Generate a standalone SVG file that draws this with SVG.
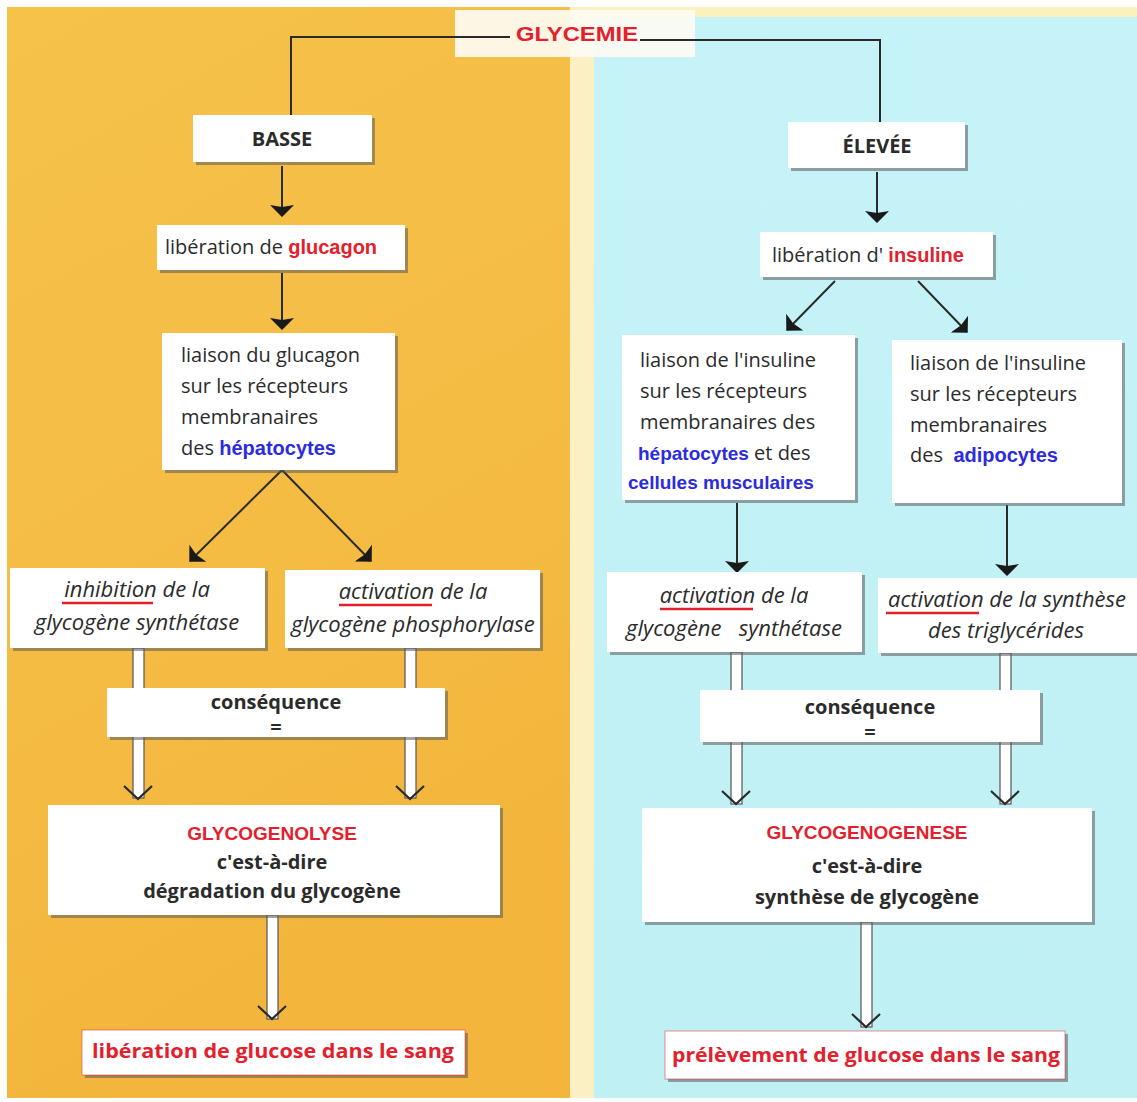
<svg xmlns="http://www.w3.org/2000/svg" width="1137" height="1102" viewBox="0 0 1137 1102">
<defs>
<linearGradient id="orange" x1="0" y1="0" x2="0.3" y2="1">
<stop offset="0" stop-color="#f6c24a"/>
<stop offset="0.5" stop-color="#f5bd45"/>
<stop offset="1" stop-color="#f3b53c"/>
</linearGradient>
<linearGradient id="cyan" x1="0" y1="0" x2="0" y2="1">
<stop offset="0" stop-color="#c6f3f7"/>
<stop offset="1" stop-color="#bff0f4"/>
</linearGradient>
<marker id="ah2" viewBox="0 0 12 24" refX="11" refY="12" markerWidth="12" markerHeight="24" markerUnits="userSpaceOnUse" orient="auto">
<path d="M0,0 L12,12 L0,24 L2,12 Z" fill="#1a1a1a"/>
</marker>
</defs>
<style>
.box{fill:#ffffff}
.sh{fill:#5a5a5a;opacity:0.55}
.t{font-family:"Open Sans","Noto Sans",sans-serif;font-size:20px;fill:#2b2b2b}
.c{text-anchor:middle}
.b{font-weight:bold}
.i{font-style:italic;font-size:22px}
.red{font-family:"Liberation Sans",Arial,sans-serif;font-weight:bold;fill:#e4202c}
.blue{font-family:"Liberation Sans",Arial,sans-serif;font-weight:bold;fill:#2b2be0}
.ln{stroke:#2a2a2a;stroke-width:2;fill:none}
.ul{stroke:#e4202c;stroke-width:2.5;fill:none}
.hs{fill:#ffffff;stroke:#555;stroke-width:1.2}
.hh{stroke:#2a2a2a;stroke-width:2.2;fill:none}
</style>
<rect x="0" y="0" width="1137" height="1102" fill="#ffffff"/>
<rect x="7" y="7" width="565" height="1091" fill="url(#orange)"/>
<rect x="570" y="7" width="567" height="10" fill="#fbf0c0"/>
<rect x="570" y="7" width="24" height="1091" fill="#fbf0c4"/>
<rect x="594" y="17" width="543" height="1081" fill="url(#cyan)"/>

<g id="connectors">
<polyline class="ln" points="510,37 291,37 291,115"/>
<polyline class="ln" points="640,40 880,40 880,122"/>
<line class="ln" x1="282" y1="166" x2="282" y2="216" marker-end="url(#ah2)"/>
<line class="ln" x1="282" y1="273" x2="282" y2="329" marker-end="url(#ah2)"/>
<line class="ln" x1="282" y1="470" x2="190" y2="561" marker-end="url(#ah2)"/>
<line class="ln" x1="282" y1="470" x2="371" y2="561" marker-end="url(#ah2)"/>
<line class="ln" x1="877" y1="172" x2="877" y2="222" marker-end="url(#ah2)"/>
<line class="ln" x1="835" y1="281" x2="787" y2="330" marker-end="url(#ah2)"/>
<line class="ln" x1="918" y1="281" x2="967" y2="332" marker-end="url(#ah2)"/>
<line class="ln" x1="737" y1="503" x2="737" y2="572" marker-end="url(#ah2)"/>
<line class="ln" x1="1007" y1="505" x2="1007" y2="575" marker-end="url(#ah2)"/>
<rect class="hs" x="133" y="648" width="11" height="150"/>
<polyline class="hh" points="124,786 138,799 152,786"/>
<rect class="hs" x="405" y="648" width="11" height="150"/>
<polyline class="hh" points="396,786 410,799 424,786"/>
<rect class="hs" x="731" y="652" width="11" height="152"/>
<polyline class="hh" points="722,791 736,804 750,791"/>
<rect class="hs" x="1000" y="653" width="11" height="151"/>
<polyline class="hh" points="991,791 1005,804 1019,791"/>
<rect class="hs" x="267" y="915" width="11" height="104"/>
<polyline class="hh" points="258,1006 272,1019 286,1006"/>
<rect class="hs" x="861" y="922" width="11" height="105"/>
<polyline class="hh" points="852,1014 866,1027 880,1014"/>
</g>

<g id="glycemie">
<rect x="455" y="10" width="240" height="47" fill="#fdfbf2" opacity="0.92"/>
<polyline class="ln" points="455,37 510,37"/>
<polyline class="ln" points="640,40 695,40"/>
<text class="red c" x="577" y="41" font-size="21" textLength="122" lengthAdjust="spacingAndGlyphs">GLYCEMIE</text>
</g>

<g id="basse">
<rect class="sh" x="196" y="118" width="179" height="47"/>
<rect class="box" x="193" y="115" width="179" height="47"/>
<text class="t b c" x="282" y="146" font-size="21">BASSE</text>
</g>

<g id="lib-glucagon">
<rect class="sh" x="160" y="228" width="248" height="45"/>
<rect class="box" x="157" y="225" width="248" height="45"/>
<text class="t" x="165" y="254">libération de <tspan class="red" font-size="20">glucagon</tspan></text>
</g>

<g id="liaison-glucagon">
<rect class="sh" x="165" y="336" width="233" height="137"/>
<rect class="box" x="162" y="333" width="233" height="137"/>
<text class="t" x="181" y="362">liaison du glucagon</text>
<text class="t" x="181" y="393">sur les récepteurs</text>
<text class="t" x="181" y="424">membranaires</text>
<text class="t" x="181" y="455">des <tspan class="blue" font-size="20">hépatocytes</tspan></text>
</g>

<g id="inhibition">
<rect class="sh" x="13" y="571" width="255" height="80"/>
<rect class="box" x="10" y="568" width="255" height="80"/>
<text class="t i c" x="137" y="597">inhibition de la</text>
<line class="ul" x1="62" y1="603" x2="153" y2="603"/>
<text class="t i c" x="137" y="630">glycogène synthétase</text>
</g>

<g id="activation-phos">
<rect class="sh" x="288" y="573" width="255" height="78"/>
<rect class="box" x="285" y="570" width="255" height="78"/>
<text class="t i c" x="413" y="599">activation de la</text>
<line class="ul" x1="339" y1="605" x2="432" y2="605"/>
<text class="t i c" x="413" y="632">glycogène phosphorylase</text>
</g>

<g id="consequence-left">
<rect class="sh" x="110" y="691" width="338" height="49"/>
<rect class="box" x="107" y="688" width="338" height="49"/>
<text class="t b c" x="276" y="709" font-size="19">conséquence</text>
<text class="t b c" x="276" y="734" font-size="13">=</text>
</g>

<g id="glycogenolyse">
<rect class="sh" x="51" y="808" width="452" height="110"/>
<rect class="box" x="48" y="805" width="452" height="110"/>
<text class="red c" x="272" y="840" font-size="19">GLYCOGENOLYSE</text>
<text class="t b c" x="272" y="869" font-size="21">c'est-à-dire</text>
<text class="t b c" x="272" y="898">dégradation du glycogène</text>
</g>

<g id="liberation-glucose">
<rect class="sh" x="85" y="1033" width="383" height="45"/>
<rect class="box" x="82" y="1030" width="383" height="45"/>
<rect x="82" y="1030" width="383" height="45" fill="none" stroke="#e4202c" stroke-width="1" opacity="0.5"/>
<text class="t b c" x="273" y="1058" font-size="21" style="fill:#e4202c" textLength="362" lengthAdjust="spacingAndGlyphs">libération de glucose dans le sang</text>
</g>

<g id="elevee">
<rect class="sh" x="791" y="125" width="177" height="46"/>
<rect class="box" x="788" y="122" width="177" height="46"/>
<text class="t b c" x="877" y="153" font-size="21">ÉLEVÉE</text>
</g>

<g id="lib-insuline">
<rect class="sh" x="763" y="235" width="233" height="45"/>
<rect class="box" x="760" y="232" width="233" height="45"/>
<text class="t" x="772" y="262">libération d' <tspan class="red" font-size="20">insuline</tspan></text>
</g>

<g id="liaison-insuline-1">
<rect class="sh" x="625" y="338" width="233" height="165"/>
<rect class="box" x="622" y="335" width="233" height="165"/>
<text class="t" x="640" y="367">liaison de l'insuline</text>
<text class="t" x="640" y="398">sur les récepteurs</text>
<text class="t" x="640" y="429">membranaires des</text>
<text class="t" x="638" y="460"><tspan class="blue" font-size="19">hépatocytes</tspan> et des</text>
<text class="blue" x="628" y="489" font-size="19">cellules musculaires</text>
</g>

<g id="liaison-insuline-2">
<rect class="sh" x="895" y="343" width="230" height="163"/>
<rect class="box" x="892" y="340" width="230" height="163"/>
<text class="t" x="910" y="370">liaison de l'insuline</text>
<text class="t" x="910" y="401">sur les récepteurs</text>
<text class="t" x="910" y="432">membranaires</text>
<text class="t" x="910" y="462" xml:space="preserve">des  <tspan class="blue" font-size="20">adipocytes</tspan></text>
</g>

<g id="activation-synth">
<rect class="sh" x="610" y="575" width="255" height="80"/>
<rect class="box" x="607" y="572" width="255" height="80"/>
<text class="t i c" x="734" y="603">activation de la</text>
<line class="ul" x1="660" y1="609" x2="753" y2="609"/>
<text class="t i c" x="734" y="636" xml:space="preserve">glycogène   synthétase</text>
</g>

<g id="activation-trigly">
<rect class="sh" x="881" y="581" width="256" height="75"/>
<rect class="box" x="878" y="578" width="259" height="75"/>
<text class="t i c" x="1007" y="607">activation de la synthèse</text>
<line class="ul" x1="886" y1="613" x2="979" y2="613"/>
<text class="t i c" x="1006" y="638">des triglycérides</text>
</g>

<g id="consequence-right">
<rect class="sh" x="703" y="693" width="340" height="52"/>
<rect class="box" x="700" y="690" width="340" height="52"/>
<text class="t b c" x="870" y="714" font-size="19">conséquence</text>
<text class="t b c" x="870" y="739" font-size="13">=</text>
</g>

<g id="glycogenogenese">
<rect class="sh" x="645" y="811" width="450" height="114"/>
<rect class="box" x="642" y="808" width="450" height="114"/>
<text class="red c" x="867" y="839" font-size="19">GLYCOGENOGENESE</text>
<text class="t b c" x="867" y="873" font-size="21">c'est-à-dire</text>
<text class="t b c" x="867" y="904">synthèse de glycogène</text>
</g>

<g id="prelevement-glucose">
<rect class="sh" x="668" y="1034" width="400" height="48"/>
<rect class="box" x="665" y="1031" width="400" height="48"/>
<rect x="665" y="1031" width="400" height="48" fill="none" stroke="#e4202c" stroke-width="1" opacity="0.5"/>
<text class="t b c" x="866" y="1062" font-size="21" style="fill:#e4202c" textLength="388" lengthAdjust="spacingAndGlyphs">prélèvement de glucose dans le sang</text>
</g>
</svg>
